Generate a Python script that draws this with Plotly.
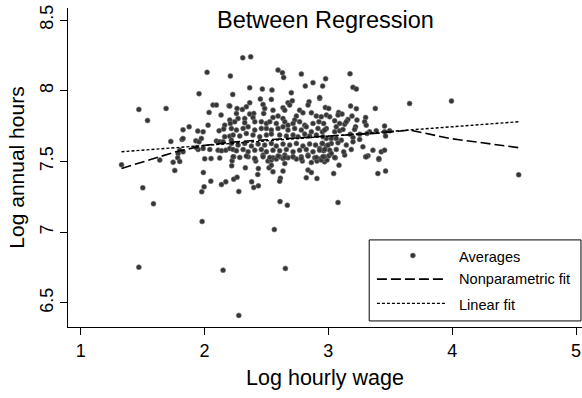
import plotly.graph_objects as go

# ---- Data (Log hourly wage, Log annual hours) ----
avg_x = [
    2.309, 2.373, 2.021, 2.209, 1.956, 2.228, 2.069, 2.096, 2.198, 2.037, 2.134, 1.690, 1.470, 1.540,
    2.204, 2.029, 2.163, 2.209, 1.876, 1.827, 1.946, 1.989, 2.118, 2.155, 2.217, 1.819, 1.827, 1.728,
    1.930, 1.956, 1.975, 2.096, 2.123, 2.150, 2.163, 2.204, 2.217, 1.800, 1.827, 1.787, 1.948, 1.989,
    1.935, 2.043, 2.110, 2.137, 2.172, 2.204, 2.231, 1.330,
    1.639, 1.747, 1.784, 1.800, 1.760, 2.002, 2.053, 2.123, 2.223, 2.236, 2.220, 1.991, 2.051, 1.997,
    1.978, 2.137, 2.172, 2.236, 1.502, 1.588, 1.981,
    2.352, 2.406, 2.414, 2.473, 2.513, 2.540, 2.553, 2.580, 2.607, 2.634, 2.648, 2.674, 2.715, 2.742,
    2.782, 2.836, 2.890, 2.930, 2.970, 2.330, 2.435, 2.521, 2.540, 2.553, 2.634, 2.648, 2.790, 2.863,
    2.908, 2.836, 2.863, 2.822, 2.908, 2.430, 2.263, 2.381, 2.398, 2.435, 2.277, 2.613, 2.607, 2.610,
    2.669, 2.564,
    1.470, 2.150, 2.277, 2.653,
    2.957, 2.970, 2.989, 2.943, 3.005, 3.056, 3.086, 3.043, 3.301, 3.320, 3.408, 3.400, 3.462, 3.078,
    3.132,
    3.175, 2.978, 2.954, 3.199, 3.226, 2.930, 3.656, 3.379, 2.976, 3.003, 3.180, 3.226, 3.083, 3.110,
    3.078, 2.984, 3.011, 3.191, 3.301, 3.158, 3.231, 3.293, 3.306, 3.051, 3.091, 2.962, 2.984, 2.952,
    3.064, 3.132, 3.145, 3.051, 3.091, 3.118, 3.220, 3.212, 3.454, 3.495, 3.454, 3.387, 3.333, 3.177,
    3.253, 3.312, 2.984, 3.024, 3.064, 3.105, 3.199, 3.253, 2.952, 2.984, 3.024, 3.078, 3.145, 3.199,
    2.930, 2.962, 3.011, 3.064, 3.124, 3.185, 3.279, 3.360, 3.427, 3.454, 3.051, 3.306, 3.408, 2.970,
    3.024, 3.462,
    3.994, 4.537,
    2.594, 2.629, 2.639, 2.782, 2.876, 2.814, 2.365, 2.467, 2.545, 2.701, 2.930, 2.451, 2.540, 2.365,
    2.338, 2.473, 2.486, 2.674, 2.709, 2.688, 2.844, 2.836, 2.204, 2.263, 2.306, 2.553, 2.634, 2.648,
    2.768, 2.795, 2.863, 2.258, 2.325, 2.271, 2.365, 2.398, 2.392, 2.478, 2.553, 2.594, 2.634, 2.742,
    2.728, 2.903, 2.943, 2.244, 2.325, 2.406, 2.459, 2.500, 2.527, 2.580, 2.648, 2.674, 2.715, 2.768,
    2.809, 2.876, 2.924,
    2.258, 2.312, 2.352, 2.406, 2.459, 2.500, 2.540, 2.594, 2.634, 2.674, 2.728, 2.782, 2.822, 2.863,
    2.916, 2.970,
    2.231, 2.285, 2.338, 2.392, 2.446, 2.500, 2.540, 2.607, 2.661, 2.715, 2.755, 2.809, 2.849, 2.903,
    2.957,
    2.217, 2.271, 2.325, 2.379, 2.433, 2.486, 2.540, 2.580, 2.634, 2.688, 2.742, 2.795, 2.849, 2.897,
    2.951, 2.997,
    2.258, 2.312, 2.352, 2.406, 2.459, 2.500, 2.553, 2.607, 2.661, 2.715, 2.768, 2.822, 2.876, 2.930,
    2.970,
    2.231, 2.285, 2.338, 2.406, 2.473, 2.527, 2.594, 2.648, 2.715, 2.782, 2.836, 2.903, 2.957,
]
avg_y = [
    8.233, 8.240, 8.130, 8.104, 7.979, 7.974, 7.899, 7.899, 7.894, 7.847, 7.828, 7.875, 7.868, 7.790,
    7.793, 7.757, 7.757, 7.769, 7.745, 7.724, 7.715, 7.710, 7.717, 7.729, 7.733, 7.656, 7.663, 7.642,
    7.646, 7.639, 7.663, 7.644, 7.639, 7.639, 7.675, 7.679, 7.651, 7.580, 7.568, 7.557, 7.585, 7.592,
    7.599, 7.585, 7.580, 7.576, 7.580, 7.592, 7.585, 7.477,
    7.510, 7.495, 7.526, 7.500, 7.437, 7.519, 7.521, 7.524, 7.505, 7.533, 7.470, 7.422, 7.361, 7.321,
    7.286, 7.337, 7.356, 7.375, 7.314, 7.201, 7.076,
    7.533, 7.521, 7.503, 7.545, 7.503, 7.510, 7.526, 7.517, 7.533, 7.521, 7.545, 7.526, 7.533, 7.517,
    7.533, 7.545, 7.526, 7.517, 7.498, 7.455, 7.450, 7.455, 7.474, 7.427, 7.432, 7.486, 7.503, 7.493,
    7.503, 7.439, 7.422, 7.385, 7.380, 7.408, 7.389, 7.356, 7.316, 7.328, 7.288, 7.382, 7.361, 7.217,
    7.191, 7.019,
    6.753, 6.732, 6.412, 6.744,
    7.533, 7.521, 7.510, 7.510, 7.540, 7.526, 7.474, 7.415, 7.533, 7.540, 7.514, 7.415, 7.432, 7.210,
    7.545,
    8.120, 8.085, 8.033, 8.024, 8.012, 7.946, 7.910, 7.875, 7.882, 7.875, 7.892, 7.873, 7.847, 7.835,
    7.828, 7.828, 7.816, 7.821, 7.811, 7.797, 7.793, 7.781, 7.757, 7.788, 7.769, 7.769, 7.733, 7.710,
    7.745, 7.764, 7.781, 7.710, 7.717, 7.727, 7.745, 7.727, 7.750, 7.717, 7.710, 7.717, 7.710, 7.693,
    7.693, 7.698, 7.663, 7.663, 7.663, 7.651, 7.670, 7.656, 7.628, 7.609, 7.628, 7.632, 7.616, 7.639,
    7.592, 7.576, 7.580, 7.585, 7.568, 7.585, 7.604, 7.580, 7.568, 7.580, 7.528, 7.533, 7.521, 7.533,
    7.557, 7.680,
    7.927, 7.406,
    8.146, 8.127, 8.094, 8.118, 8.057, 8.033, 8.021, 8.012, 8.005, 7.986, 7.953, 7.941, 7.939, 7.915,
    7.887, 7.903, 7.875, 7.915, 7.929, 7.899, 7.922, 7.899, 7.892, 7.875, 7.868, 7.863, 7.880, 7.863,
    7.863, 7.844, 7.844, 7.840, 7.804, 7.804, 7.835, 7.840, 7.811, 7.840, 7.811, 7.821, 7.804, 7.821,
    7.793, 7.821, 7.816, 7.781, 7.774, 7.781, 7.781, 7.769, 7.781, 7.769, 7.781, 7.757, 7.769, 7.781,
    7.757, 7.769, 7.781,
    7.722, 7.734, 7.745, 7.722, 7.734, 7.734, 7.722, 7.734, 7.745, 7.722, 7.734, 7.722, 7.745, 7.710,
    7.734, 7.722,
    7.687, 7.680, 7.698, 7.687, 7.675, 7.687, 7.694, 7.687, 7.680, 7.687, 7.675, 7.694, 7.680, 7.687,
    7.675,
    7.628, 7.616, 7.628, 7.609, 7.623, 7.616, 7.628, 7.609, 7.623, 7.616, 7.628, 7.609, 7.623, 7.616,
    7.628, 7.616,
    7.576, 7.585, 7.569, 7.580, 7.585, 7.569, 7.580, 7.576, 7.585, 7.569, 7.580, 7.585, 7.569, 7.580,
    7.585,
    7.533, 7.529, 7.538, 7.521, 7.533, 7.529, 7.538, 7.529, 7.533, 7.521, 7.538, 7.529, 7.533,
]

np_x = [1.33, 1.55, 1.77, 1.99, 2.20, 2.40, 2.60, 2.80, 3.00, 3.20, 3.40, 3.66, 3.98, 4.54]
np_y = [7.451, 7.510, 7.569, 7.612, 7.635, 7.648, 7.660, 7.672, 7.680, 7.690, 7.700, 7.722, 7.663, 7.597]

lin_x = [1.33, 4.54]
lin_y = [7.569, 7.781]

x_ticks = [1, 2, 3, 4, 5]
y_ticks = [6.5, 7, 7.5, 8, 8.5]

FONT = "Liberation Sans, Arial, sans-serif"

fig = go.Figure()
fig.add_trace(go.Scatter(x=avg_x, y=avg_y, mode="markers", name="Averages",
                         marker=dict(size=5, color="#353535", line=dict(width=0.6, color="#777777")),
                         showlegend=False))
fig.add_trace(go.Scatter(x=np_x, y=np_y, mode="lines", name="Nonparametric fit",
                         line=dict(color="black", width=1.6, dash="10px,4px"), showlegend=False))
fig.add_trace(go.Scatter(x=lin_x, y=lin_y, mode="lines", name="Linear fit",
                         line=dict(color="black", width=1.4, dash="3px,2px"), showlegend=False))

fig.update_layout(
    width=582, height=398,
    margin=dict(l=68, r=0, t=8, b=71),
    paper_bgcolor="white", plot_bgcolor="white",
    font=dict(family=FONT, color="black"),
    xaxis=dict(range=[0.898, 5.048], tickvals=x_ticks, ticktext=[str(v) for v in x_ticks],
               showline=True, linecolor="black", linewidth=1.3, ticks="outside", ticklen=7,
               tickwidth=1.2, tickcolor="black", showgrid=False, zeroline=False,
               tickfont=dict(size=18), automargin=False,
               title=dict(text="Log hourly wage", font=dict(size=21.5), standoff=10)),
    yaxis=dict(range=[6.33, 8.585], tickvals=y_ticks, ticktext=[str(v) for v in y_ticks],
               showline=True, linecolor="black", linewidth=1.3, ticks="outside", ticklen=7,
               tickwidth=1.2, tickcolor="black", showgrid=False, zeroline=False,
               tickangle=-90, tickfont=dict(size=18), automargin=False,
               title=dict(text="Log annual hours", font=dict(size=21), standoff=6)),
)

# Title inside the plot region
fig.add_annotation(text="Between Regression", xref="paper", yref="paper", x=0.5, y=0.962,
                   showarrow=False, font=dict(size=23.5, family=FONT), xanchor="center", yanchor="middle")

# Custom legend (Stata style)
fig.add_shape(type="rect", xref="paper", yref="paper", x0=0.586, x1=0.998, y0=0.019, y1=0.273,
              line=dict(color="black", width=1), fillcolor="white", layer="above")
fig.add_shape(type="circle", xref="paper", yref="paper", x0=0.671 - 0.0049, x1=0.671 + 0.0049,
              y0=0.224 - 0.0078, y1=0.224 + 0.0078, line=dict(width=0.6, color="#777777"),
              fillcolor="#353535", layer="above")
fig.add_shape(type="line", xref="paper", yref="paper", x0=0.601, x1=0.737, y0=0.150, y1=0.150,
              line=dict(color="black", width=1.6, dash="10px,4px"), layer="above")
fig.add_shape(type="line", xref="paper", yref="paper", x0=0.601, x1=0.737, y0=0.074, y1=0.074,
              line=dict(color="black", width=1.4, dash="3px,2px"), layer="above")
for label, yy in [("Averages", 0.219), ("Nonparametric fit", 0.150), ("Linear fit", 0.069)]:
    fig.add_annotation(text=label, xref="paper", yref="paper", x=0.757, y=yy, showarrow=False,
                       xanchor="left", yanchor="middle", font=dict(size=14.6, family=FONT))

fig.write_html("out.html", config={"displayModeBar": False},
               post_script="document.body.style.margin='0';document.body.style.overflow='hidden';")
